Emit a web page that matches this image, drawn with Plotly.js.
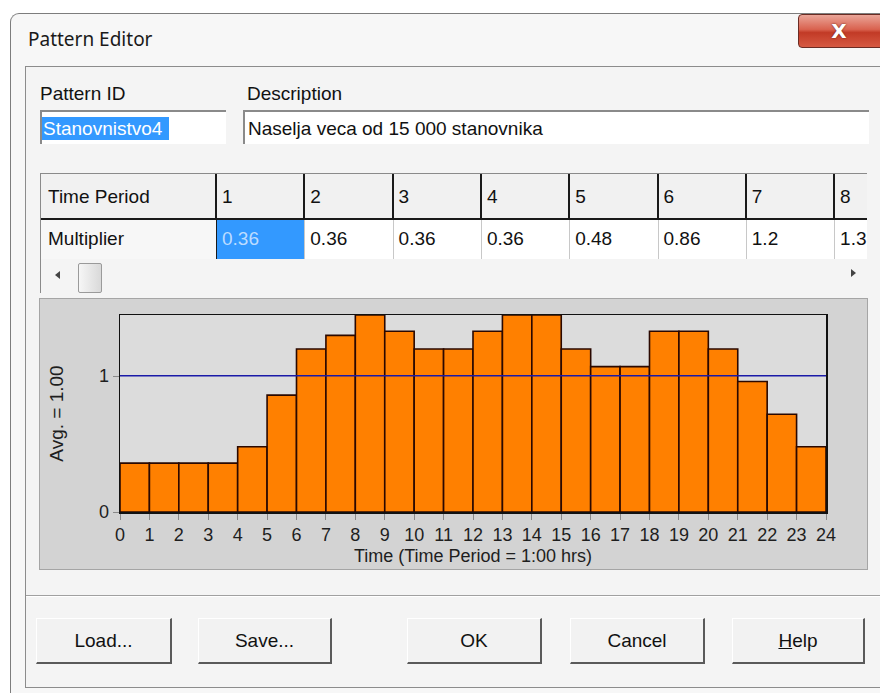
<!DOCTYPE html>
<html>
<head>
<meta charset="utf-8">
<script src="https://cdn.plot.ly/plotly-3.0.1.min.js"></script>
<style>
  html, body { margin:0; padding:0; width:880px; height:693px; overflow:hidden; background:#ffffff; }
  body { position:relative; font-family:"Liberation Sans", Arial, sans-serif; color:#111; }
  .abs { position:absolute; box-sizing:border-box; }
  .txt { position:absolute; white-space:nowrap; font-size:19px; line-height:1; }
  .btn { position:absolute; box-sizing:border-box; top:618px; height:46px; background:#f2f2f2;
         border-top:1px solid #ffffff; border-left:1px solid #ffffff;
         border-right:2px solid #5a5a5a; border-bottom:2px solid #5a5a5a;
         font-size:19px; display:flex; align-items:center; justify-content:center; }
</style>
</head>
<body>
<!-- window frame -->
<div class="abs" style="left:10px; top:13px; width:880px; height:680px; border-left:1px solid #7d7d7d; border-top:1px solid #7d7d7d; border-top-left-radius:9px; background:#f7f7f7;"></div>
<div class="txt" style="left:28px; top:30px; font-family:'Noto Sans','Open Sans',sans-serif; font-size:19px; color:#1a1a1a;">Pattern Editor</div>
<div class="abs" style="left:798px; top:14px; width:90px; height:34px; border:1px solid #6b2c24; border-radius:4px;
     background:linear-gradient(#eaa598 0%, #d9624f 45%, #c23a26 55%, #d65a43 100%); display:flex; align-items:center; justify-content:center;">
  <span style="color:#fff; font-weight:bold; font-size:20px; font-family:'DejaVu Sans',sans-serif; text-shadow:0 0 2px #5a1a10; margin-right:8px;">X</span>
</div>
<!-- client area -->
<div class="abs" style="left:25px; top:66px; width:860px; height:622px; border-left:1px solid #8c8c8c; border-top:1px solid #8c8c8c; border-bottom:1px solid #8c8c8c; background:#f4f4f4;"></div>

<div class="txt" style="left:40px; top:84px;">Pattern ID</div>
<div class="abs" style="left:40px; top:110px; width:186px; height:34px; background:#ffffff; border-top:2px solid #8a8a8a; border-left:2px solid #8a8a8a;"></div>
<div class="abs" style="left:42px; top:117px; width:127px; height:23px; background:#3399ff;"></div>
<div class="txt" style="left:43px; top:119px; color:#ffffff;">Stanovnistvo4</div>

<div class="txt" style="left:247px; top:84px;">Description</div>
<div class="abs" style="left:243px; top:110px; width:626px; height:34px; background:#ffffff; border-top:2px solid #8a8a8a; border-left:2px solid #8a8a8a;"></div>
<div class="txt" style="left:248px; top:119px;">Naselja veca od 15 000 stanovnika</div>

<!-- grid -->
<div id="grid" class="abs" style="left:40px; top:173px; width:827px; height:120px; overflow:hidden; background:#f4f4f4; border-left:1px solid #8a8a8a; border-top:1px solid #8a8a8a;"></div>

<!-- chart panel -->
<div class="abs" style="left:39px; top:298px; width:829px; height:272px; border:1px solid #a5a5a5; background:#d3d3d3;"></div>
<div id="chart" class="abs" style="left:40px; top:299px; width:827px; height:270px;"></div>

<!-- separator -->
<div class="abs" style="left:26px; top:595px; width:860px; height:2px; border-top:1px solid #a0a0a0; border-bottom:1px solid #ffffff;"></div>

<div class="btn" style="left:36px; width:136px;">Load...</div>
<div class="btn" style="left:198px; width:134px;">Save...</div>
<div class="btn" style="left:407px; width:135px;">OK</div>
<div class="btn" style="left:570px; width:135px;">Cancel</div>
<div class="btn" style="left:732px; width:133px;"><span><u>H</u>elp</span></div>

<script>
// ---- data ----
const periods = [1, 2, 3, 4, 5, 6, 7, 8, 9, 10, 11, 12, 13, 14, 15, 16, 17, 18, 19, 20, 21, 22, 23, 24];
const multipliers = [0.36, 0.36, 0.36, 0.36, 0.48, 0.86, 1.2, 1.3, 1.45, 1.33, 1.2, 1.2,
                     1.33, 1.45, 1.45, 1.2, 1.07, 1.07, 1.33, 1.33, 1.2, 0.96, 0.72, 0.48];
const hourTicks = [0, 1, 2, 3, 4, 5, 6, 7, 8, 9, 10, 11, 12, 13, 14, 15, 16, 17, 18, 19, 20, 21, 22, 23, 24];
const rowLabels = ["Time Period", "Multiplier"];
const xTitle = "Time (Time Period = 1:00 hrs)";

// ---- grid (table) ----
(function buildGrid() {
  const g = document.getElementById('grid');
  const firstW = 175, colW = 88.3, hdrH = 45, rowH = 40;
  let html = '';
  html += `<div class="abs" style="left:0;top:0;width:830px;height:${hdrH}px;background:#f1f1f1;"></div>`;
  html += `<div class="abs" style="left:0;top:${hdrH}px;width:830px;height:${rowH}px;background:#ffffff;"></div>`;
  html += `<div class="abs" style="left:0;top:${hdrH}px;width:${firstW}px;height:${rowH}px;background:#f7f7f7;"></div>`;
  html += `<div class="txt" style="left:7px;top:${hdrH/2-10}px;">${rowLabels[0]}</div>`;
  html += `<div class="txt" style="left:7px;top:${hdrH+rowH/2-10}px;">${rowLabels[1]}</div>`;
  const shown = 8;
  for (let k = 0; k < shown; k++) {
    const x = firstW + k * colW;
    if (k === 0) {
      html += `<div class="abs" style="left:${x}px;top:${hdrH}px;width:${colW}px;height:${rowH}px;background:#3399ff;"></div>`;
    }
    html += `<div class="abs" style="left:${x-1}px;top:0;width:2px;height:${hdrH}px;background:#1a1a1a;"></div>`;
    html += `<div class="abs" style="left:${x}px;top:${hdrH}px;width:1px;height:${rowH}px;background:${k===0?'#1a1a1a':'#c8c8c8'};"></div>`;
    html += `<div class="txt" style="left:${x+6}px;top:${hdrH/2-10}px;">${periods[k]}</div>`;
    html += `<div class="txt" style="left:${x+6}px;top:${hdrH+rowH/2-10}px;color:${k===0?'#bcdcff':'#111'};">${multipliers[k]}</div>`;
  }
  html += `<div class="abs" style="left:0;top:${hdrH-1}px;width:830px;height:2px;background:#1a1a1a;"></div>`;
  // scrollbar
  html += `<div class="abs" style="left:14px;top:${hdrH+rowH+12}px;width:0;height:0;border-top:4px solid transparent;border-bottom:4px solid transparent;border-right:5px solid #444;"></div>`;
  html += `<div class="abs" style="left:37px;top:${hdrH+rowH+4}px;width:24px;height:30px;border:1px solid #9a9a9a;border-radius:2px;background:linear-gradient(90deg,#f6f6f6,#d9d9d9);"></div>`;
  html += `<div class="abs" style="left:810px;top:${hdrH+rowH+10}px;width:0;height:0;border-top:4px solid transparent;border-bottom:4px solid transparent;border-left:5px solid #444;"></div>`;
  g.innerHTML = html;
})();

// ---- chart ----
const avg = multipliers.reduce((a, b) => a + b, 0) / multipliers.length;
const barX = periods.map(p => p - 0.5);

const traces = [
  {
    type: 'bar',
    x: barX,
    y: multipliers,
    width: 1,
    marker: { color: '#ff8000', line: { color: '#2a0800', width: 1.6 } },
    hoverinfo: 'skip',
    showlegend: false
  },
  {
    type: 'scatter',
    mode: 'lines',
    x: [hourTicks[0], hourTicks[hourTicks.length - 1]],
    y: [avg, avg],
    line: { color: '#1a1aa8', width: 1.5 },
    hoverinfo: 'skip',
    showlegend: false
  }
];

const layout = {
  width: 827,
  height: 270,
  margin: { l: 80, r: 41, t: 16, b: 57 },
  paper_bgcolor: '#d3d3d3',
  plot_bgcolor: '#dcdcdc',
  bargap: 0,
  showlegend: false,
  font: { family: '"Liberation Sans", Arial, sans-serif', size: 18, color: '#1e1e1e' },
  xaxis: {
    range: [0, 24],
    tickmode: 'array',
    tickvals: hourTicks,
    ticktext: hourTicks.map(String),
    ticks: 'outside',
    ticklen: 6,
    tickcolor: '#8a8a8a',
    tickfont: { size: 18 },
    showgrid: false,
    zeroline: false,
    showline: true,
    mirror: true,
    linecolor: '#111111',
    linewidth: 1.5,
    title: { text: xTitle, font: { size: 18 }, standoff: 5 }
  },
  yaxis: {
    range: [0, 1.45],
    tickmode: 'array',
    tickvals: [0, 1],
    ticktext: ['0', '1'],
    ticks: 'outside',
    ticklen: 6,
    tickcolor: '#8a8a8a',
    tickfont: { size: 18 },
    showgrid: false,
    zeroline: false,
    showline: true,
    mirror: true,
    linecolor: '#111111',
    linewidth: 1.5,
    title: { text: 'Avg. = ' + avg.toFixed(2), font: { size: 19 }, standoff: 30 }
  }
};

Plotly.newPlot('chart', traces, layout, { staticPlot: true, displayModeBar: false });
</script>
</body>
</html>
